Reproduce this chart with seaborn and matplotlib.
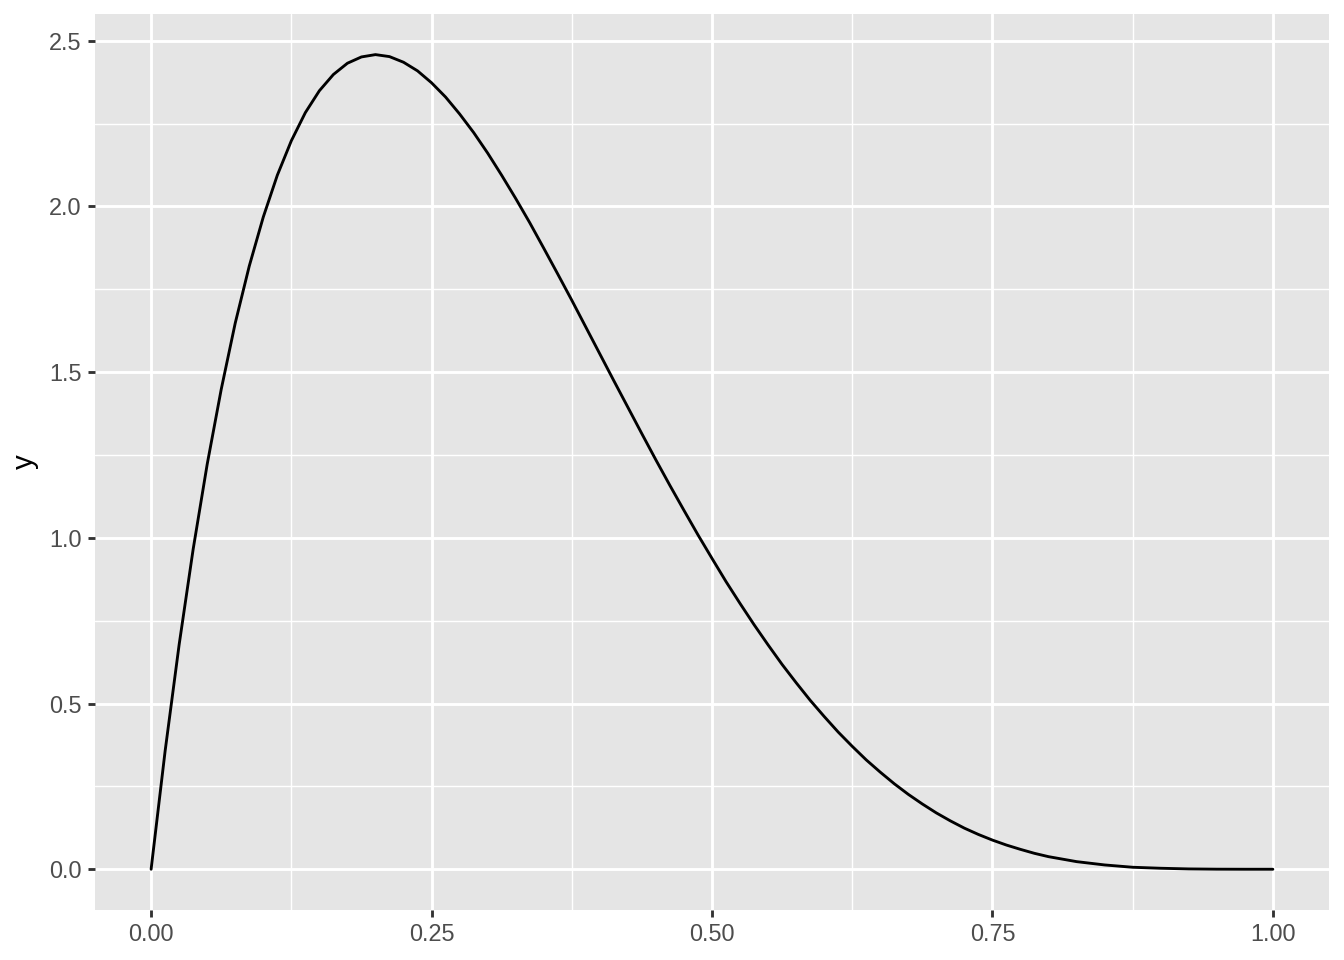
import seaborn as sns
import matplotlib.pyplot as plt
import pandas as pd
from matplotlib.ticker import MultipleLocator

# values
x_vals = [0.0, 0.0125, 0.025, 0.0375, 0.05, 0.0625, 0.075, 0.0875, 0.1, 0.1125,
          0.125, 0.1375, 0.15, 0.1625, 0.175, 0.1875, 0.2, 0.2125, 0.225, 0.2375,
          0.25, 0.2625, 0.275, 0.2875, 0.3, 0.3125, 0.325, 0.3375, 0.35, 0.3625,
          0.375, 0.3875, 0.4, 0.4125, 0.425, 0.4375, 0.45, 0.4625, 0.475, 0.4875,
          0.5, 0.5125, 0.525, 0.5375, 0.55, 0.5625, 0.575, 0.5875, 0.6, 0.6125,
          0.625, 0.6375, 0.65, 0.6625, 0.675, 0.6875, 0.7, 0.7125, 0.725, 0.7375,
          0.75, 0.7625, 0.775, 0.7875, 0.8, 0.825, 0.85, 0.875, 0.9, 0.925,
          0.95, 0.975, 1.0]
y_vals = [0.0, 0.357, 0.678, 0.966, 1.222, 1.448, 1.648, 1.820, 1.968, 2.094,
          2.198, 2.283, 2.349, 2.398, 2.432, 2.451, 2.458, 2.452, 2.435, 2.409,
          2.373, 2.330, 2.279, 2.223, 2.161, 2.094, 2.024, 1.951, 1.874, 1.796,
          1.717, 1.636, 1.555, 1.474, 1.394, 1.314, 1.235, 1.158, 1.083, 1.009,
          0.938, 0.868, 0.802, 0.738, 0.677, 0.618, 0.563, 0.510, 0.461, 0.414,
          0.371, 0.330, 0.293, 0.258, 0.226, 0.197, 0.170, 0.146, 0.124, 0.105,
          0.088, 0.073, 0.060, 0.048, 0.038, 0.023, 0.013, 0.006, 0.003, 0.001,
          0.0002, 0.0, 0.0]

x_ticks = [0.0, 0.25, 0.5, 0.75, 1.0]
x_labels = ["0.00", "0.25", "0.50", "0.75", "1.00"]
y_ticks = [0.0, 0.5, 1.0, 1.5, 2.0, 2.5]
y_labels = ["0.0", "0.5", "1.0", "1.5", "2.0", "2.5"]

df = pd.DataFrame({"x": x_vals, "y": y_vals})

sns.set_theme(style="darkgrid", rc={
    "axes.facecolor": "#E5E5E5",
    "grid.color": "white",
    "axes.edgecolor": "none",
})
plt.rcParams["font.family"] = ["Liberation Sans", "DejaVu Sans"]

fig = plt.figure(figsize=(7, 5), dpi=192)
ax = fig.add_axes([0.0707, 0.0521, 0.9181, 0.9333])

sns.lineplot(data=df, x="x", y="y", color="black", linewidth=1.07, ax=ax)
for ln in ax.lines:
    ln.set_solid_joinstyle("round")

ax.set_xlim(-0.05, 1.05)
ax.set_ylim(-0.1229, 2.5805)
ax.set_xticks(x_ticks)
ax.set_xticklabels(x_labels)
ax.set_yticks(y_ticks)
ax.set_yticklabels(y_labels)
ax.xaxis.set_minor_locator(MultipleLocator(0.125))
ax.yaxis.set_minor_locator(MultipleLocator(0.25))
ax.grid(which="major", color="white", linewidth=1.07)
ax.grid(which="minor", color="white", linewidth=0.53)
ax.tick_params(which="major", length=2.75, width=1.07, color="#333333",
               labelsize=8.8, labelcolor="#4D4D4D", pad=2.2, bottom=True, left=True)
ax.tick_params(which="minor", length=0)
for s in ax.spines.values():
    s.set_visible(False)
ax.set_xlabel("")
ax.set_ylabel("y", fontsize=11, color="black", labelpad=4)

fig.savefig("out.png", dpi=192)
